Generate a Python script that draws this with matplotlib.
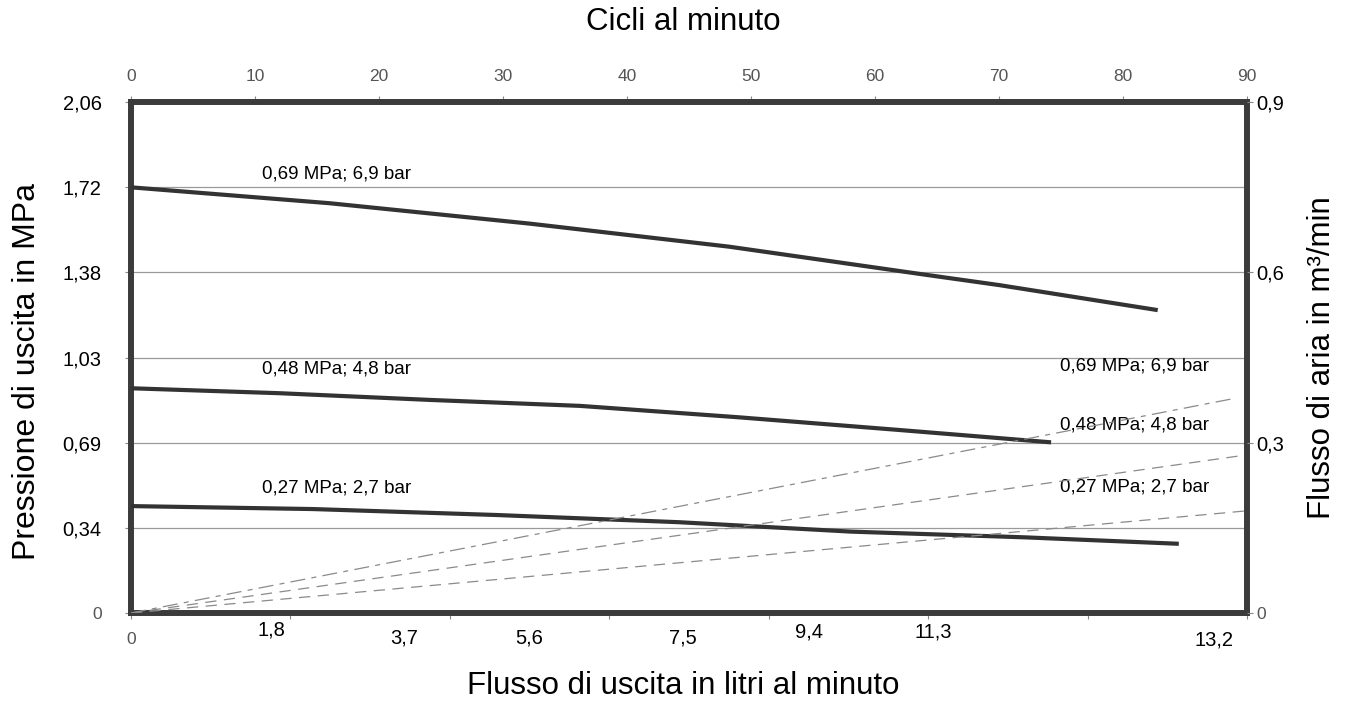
import numpy as np
import matplotlib
matplotlib.use("Agg")
import matplotlib.pyplot as plt

plt.rcParams['font.family'] = ['Liberation Sans', 'DejaVu Sans']

# -------------------
# DATA
# -------------------
# cycles per minute (top axis) and outlet pressure in MPa (left axis)
cyc_69 = [0, 16.0, 32.1, 48.2, 64.3, 70.0, 82.8]
p_69 = [1.716, 1.652, 1.570, 1.477, 1.362, 1.322, 1.221]

cyc_48 = [0, 12.0, 24.1, 36.2, 49.0, 61.9, 74.2]
p_48 = [0.906, 0.886, 0.859, 0.835, 0.789, 0.738, 0.688]

cyc_27 = [0, 14.7, 29.5, 44.2, 58.1, 72.1, 84.5]
p_27 = [0.431, 0.419, 0.395, 0.366, 0.328, 0.305, 0.279]

# air flow in m3/min (right axis)
cyc_air_69 = [0, 89.0]
air_69 = [0, 0.378]
cyc_air_48 = [0, 89.5]
air_48 = [0, 0.277]
cyc_air_27 = [0, 90.0]
air_27 = [0, 0.180]

series_names = ["0,69 MPa; 6,9 bar", "0,48 MPa; 4,8 bar", "0,27 MPa; 2,7 bar"]

top_ticks = [0, 10, 20, 30, 40, 50, 60, 70, 80, 90]
left_labels = ["0", "0,34", "0,69", "1,03", "1,38", "1,72", "2,06"]
right_labels = ["0", "0,3", "0,6", "0,9"]
bottom_labels = ["0", "1,8", "3,7", "5,6", "7,5", "9,4", "11,3", "13,2"]

# -------------------
# FIGURE
# -------------------
W, H = 1355, 704
fig = plt.figure(figsize=(W / 100, H / 100), dpi=100)
ax = fig.add_axes([131 / W, 91 / H, 1116 / W, 511 / H])
ax.set_xlim(0, 90)
ax.set_ylim(0, 2.06)

frame = "#3b3b3b"
for s in ax.spines.values():
    s.set_linewidth(4.3)
    s.set_color(frame)

# grid lines at the pressure ticks
yt = np.linspace(0, 2.06, len(left_labels))
for y in yt[1:-1]:
    ax.axhline(y, color="#9a9a9a", lw=0.9, zorder=1)

# pressure curves
for xs, ys in [(cyc_69, p_69), (cyc_48, p_48), (cyc_27, p_27)]:
    ax.plot(xs, ys, color="#333333", lw=3.0, solid_capstyle="butt", zorder=3)

# top axis: cycles per minute
ax.xaxis.tick_top()
ax.set_xticks(top_ticks)
ax.set_xticklabels([str(t) for t in top_ticks])
ax.tick_params(axis="x", top=True, bottom=False, length=4, width=0.8, color="#888888",
               labelsize=12.5, labelcolor="#555555", pad=9)

# left axis: pressure
ax.set_yticks(yt)
ax.set_yticklabels(left_labels)
ax.tick_params(axis="y", length=4, width=0.8, color="#888888", labelsize=14.5, pad=17)
ax.get_yticklabels()[0].set_color("#555555")
ax.get_yticklabels()[0].set_fontsize(12.5)

# right axis: air flow
ax2 = ax.twinx()
ax2.set_ylim(0, 0.9)
ax2.set_yticks(np.linspace(0, 0.9, len(right_labels)))
ax2.set_yticklabels(right_labels)
ax2.tick_params(axis="y", length=4, width=0.8, color="#888888", labelsize=14.5, pad=3)
ax2.get_yticklabels()[0].set_color("#555555")
ax2.get_yticklabels()[0].set_fontsize(12.5)
for s in ax2.spines.values():
    s.set_visible(False)

ax2.plot(cyc_air_69, air_69, color="#8a8a8a", lw=0.9, dashes=(12, 5, 4, 5))
ax2.plot(cyc_air_48, air_48, color="#8a8a8a", lw=0.9, dashes=(9, 6))
ax2.plot(cyc_air_27, air_27, color="#8a8a8a", lw=0.9, dashes=(9, 6))

# bottom axis: litres per minute (labels sit off their ticks in the original)
bot = ax.secondary_xaxis("bottom")
bot.set_xticks(np.linspace(0, 90, len(bottom_labels)))
bot.set_xticklabels([])
bot.tick_params(length=4, width=0.8, color="#888888")
bot.spines["bottom"].set_visible(False)

bl_x = [0, 11.35, 22.0, 32.1, 44.5, 54.7, 64.7, 87.3]
bl_y = [-0.052, -0.033, -0.049, -0.049, -0.049, -0.037, -0.037, -0.052]
tr = ax.get_xaxis_transform()
for i, lab in enumerate(bottom_labels):
    if i == 0:
        ax.text(bl_x[i], bl_y[i], lab, transform=tr, ha="center", va="center",
                fontsize=12.5, color="#555555")
    else:
        ax.text(bl_x[i], bl_y[i], lab, transform=tr, ha="center", va="center",
                fontsize=14.5, color="black")

# curve labels
ax.text(10.6, 1.77, series_names[0], fontsize=13.5, va="center")
ax.text(10.6, 0.985, series_names[1], fontsize=13.5, va="center")
ax.text(10.6, 0.505, series_names[2], fontsize=13.5, va="center")
ax.text(74.9, 0.996, series_names[0], fontsize=13.5, va="center")
ax.text(74.9, 0.758, series_names[1], fontsize=13.5, va="center")
ax.text(74.9, 0.508, series_names[2], fontsize=13.5, va="center")

# axis titles
fig.text(683 / W, 1 - 22 / H, "Cicli al minuto", fontsize=22.5, ha="center", va="center")
fig.text(683 / W, 1 - 686 / H, "Flusso di uscita in litri al minuto", fontsize=22.5,
         ha="center", va="center")
fig.text(27 / W, 1 - 372 / H, "Pressione di uscita in MPa", fontsize=23, rotation=90,
         ha="center", va="center")
fig.text(1322 / W, 1 - 358 / H, "Flusso di aria in m³/min", fontsize=22.5, rotation=90,
         ha="center", va="center")

plt.savefig("out.png", dpi=100)
